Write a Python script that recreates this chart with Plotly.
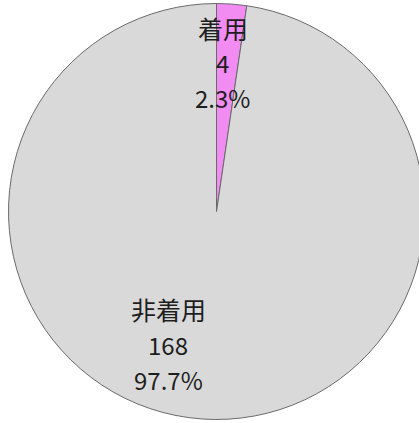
import plotly.graph_objects as go

labels = ["着用", "非着用"]
values = [4, 168]
colors = ["#F28CF2", "#D9D9D9"]

total = sum(values)
percents = [v / total * 100 for v in values]

W, H = 433, 423

fig = go.Figure(go.Pie(
    labels=labels,
    values=values,
    sort=False,
    direction="clockwise",
    rotation=0,
    textinfo="none",
    hoverinfo="label+value+percent",
    marker=dict(colors=colors, line=dict(color="#6A6A6A", width=1)),
    domain=dict(x=[0, 1], y=[0.0083, 0.9917]),
    showlegend=False,
))

# label block centres (pixels) for each slice
label_pos = [(223, 62.5), (168, 344)]
line_gap = 35
for (cx, cy), lab, v, p in zip(label_pos, labels, values, percents):
    lines = [lab, f"{v}", f"{p:.1f}%"]
    for i, t in enumerate(lines):
        y = cy + (i - 1) * line_gap
        size = 25 if i == 0 else 24
        fig.add_annotation(x=cx / W, y=1 - y / H, xref="paper", yref="paper",
                           text=t, showarrow=False,
                           font=dict(family="Noto Sans CJK JP", size=size, color="#1E1E1E"),
                           xanchor="center", yanchor="middle")

fig.update_layout(
    width=W, height=H,
    margin=dict(l=0, r=0, t=0, b=0),
    paper_bgcolor="white",
    plot_bgcolor="white",
)

fig.write_html("out.html", config={"displayModeBar": False},
               post_script="document.body.style.margin='0';document.documentElement.style.overflow='hidden';document.body.style.overflow='hidden';")
